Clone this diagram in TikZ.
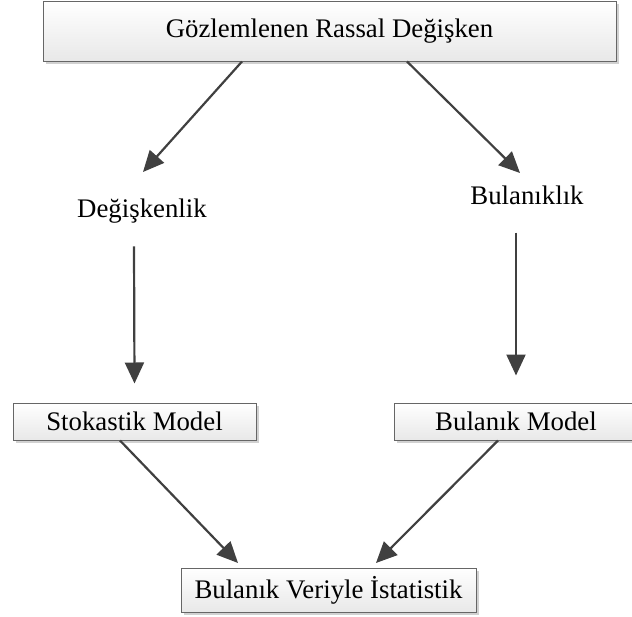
\documentclass[tikz,border=0pt]{standalone}
\usepackage{fontspec}
\setmainfont{Liberation Serif}
\usepackage{tikz}
\usetikzlibrary{arrows.meta, positioning, calc, shadows}
\tikzstyle{box} = [rectangle, draw=black!60, line width=1pt, top color=white, bottom color=black!9, drop shadow={shadow xshift=3pt, shadow yshift=-3pt, fill=black!18, opacity=1}, text centered, inner sep=0pt]
\tikzstyle{label} = [text centered, inner sep=0pt]
\tikzstyle{arrow} = [draw=black!75, line width=2.2pt, -{Triangle[length=21pt, width=19pt]}]

\begin{document}
\begin{tikzpicture}[x=1pt, y=-1pt, font=\fontsize{26.8}{32}\selectfont]
\useasboundingbox (0,0) rectangle (632,616);
\node (obs) [box, minimum width=573pt, minimum height=60pt] at (329.5,31) {Gözlemlenen Rassal Değişken};
\node (var) [label] at (142,211) {Değişkenlik};
\node (fuz) [label] at (527,195) {Bulanıklık};
\node (stok) [box, minimum width=243pt, minimum height=37pt] at (134.5,421.5) {Stokastik Model};
\node (bmod) [box, minimum width=244pt, minimum height=37pt] at (516,421.5) {Bulanık Model};
\node (stat) [box, minimum width=295pt, minimum height=44pt] at (328.5,590) {Bulanık Veriyle İstatistik};

\coordinate (varTip) at (143,172);
\coordinate (fuzTip) at (520,173);
\coordinate (leftTip) at (238,563);
\coordinate (rightTip) at (376,563);

\draw [arrow] ([xshift=-87.5pt]obs.south) -- (varTip);
\draw [arrow] ([xshift=77.5pt]obs.south) -- (fuzTip);
\draw [arrow] ([xshift=-8pt, yshift=-23pt]var.south) -- ([yshift=19pt]stok.north);
\draw [arrow] ([xshift=-11pt, yshift=-28pt]fuz.south) -- ([yshift=27pt]bmod.north);
\draw [arrow] ([xshift=-14.5pt]stok.south) -- (leftTip);
\draw [arrow] ([xshift=-18pt]bmod.south) -- (rightTip);
\end{tikzpicture}
\end{document}
